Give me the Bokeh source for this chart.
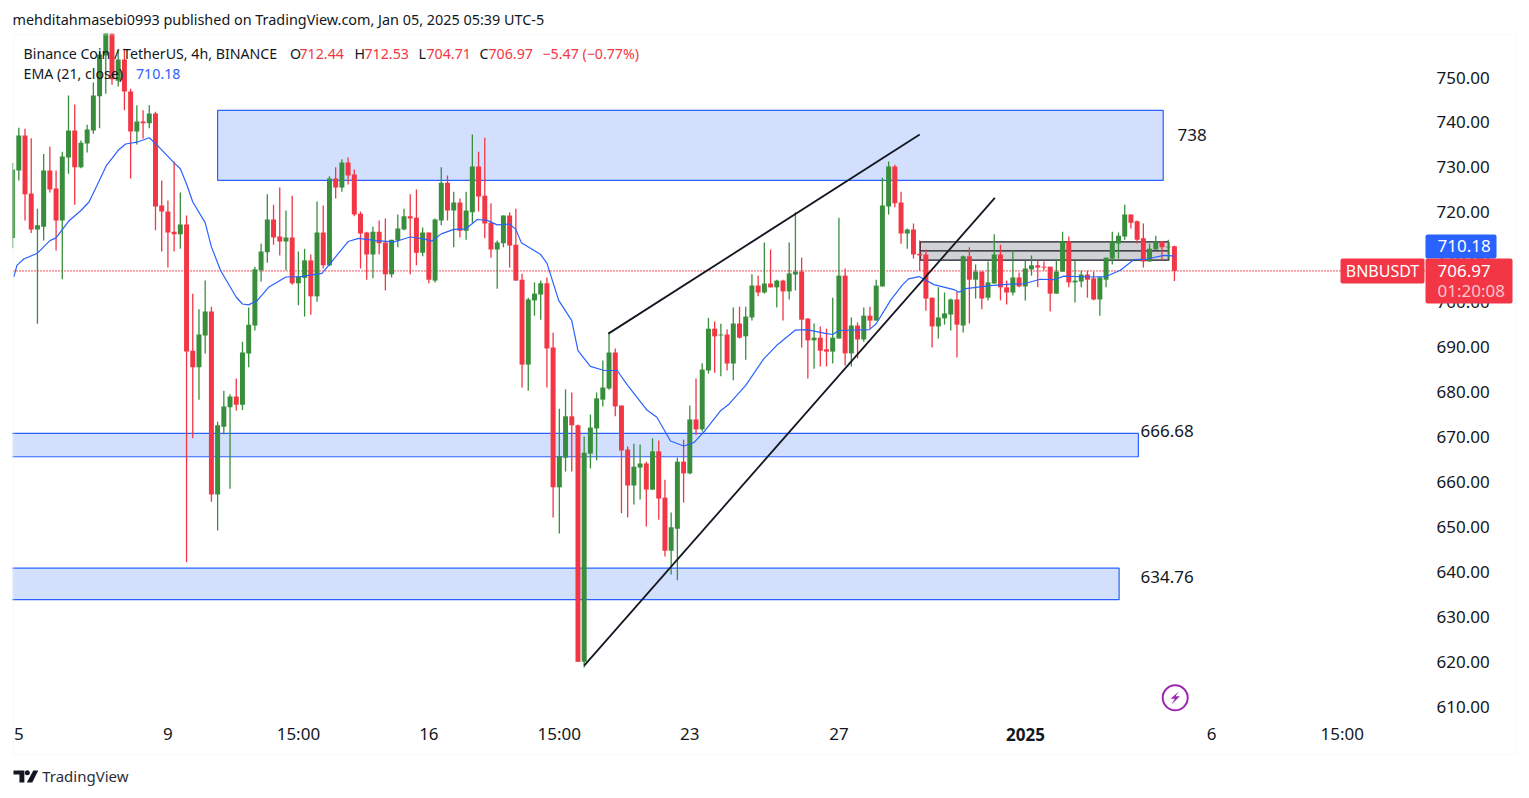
from bokeh.plotting import figure
from bokeh.models import (Range1d, LinearAxis, FixedTicker, Label, BoxAnnotation, Title,
                          NumeralTickFormatter, ColumnDataSource)
from bokeh.layouts import column
from bokeh.embed import file_html
from bokeh.resources import INLINE

OPENS = [714.3,
 729.3,737.1,724.2,716.2,716.8,729.3,725.3,718.2,732.2,738.2,
 730.0,735.3,738.2,745.8,754.9,762,749.3,754.0,746.9,738.0,
 740.2,739.8,742.0,721.5,720.2,715.7,715.1,717.3,689.2,685.5,
 692.6,697.9,657.2,672.3,676.6,679.0,677.2,688.6,694.8,707.1,
 711.1,718.4,714.6,713.5,714.4,704.2,705.4,709.3,701.3,715.5,
 708.2,727.5,725.5,731.1,728.4,719.7,715.5,710.6,715.7,713.3,
 706.2,713.7,716.2,719.1,718.8,711.0,715.5,704.8,718.2,726.6,
 720.4,722.2,715.9,720.0,730.2,723.7,717.7,711.7,713.1,719.3,
 712.8,705.0,686.1,700.4,701.7,704.2,689.9,658.8,665.4,674.6,
 672.6,620.0,666.3,671.9,678.3,680.8,688.8,677.0,667.2,659.2,
 663.2,664.1,658.3,666.8,656.5,644.7,649.6,664.5,661.9,673.9,
 671.7,684.8,694.1,692.6,692.8,686.35,695.25,692.4,696.6,703.7,
 702.15,704.15,703.3,704.8,702.4,706.15,706.8,696.35,691.5,692.1,
 689.5,689.0,691.9,705.9,688.6,694.8,691.7,697.0,695.9,703.5,
 721.3,730.2,722.2,715.3,716.2,710.8,710.6,701.0,694.6,696.4,
 697.25,700.6,694.8,710.2,705.0,706.8,701.0,704.15,710.6,703.3,
 702.15,705.5,703.5,707.3,708.2,707.9,707.9,701.9,706.8,713.5,
 704.4,704.6,706.15,705.3,700.6,705.0,709.7,713.05,714.6,719.5,
 718.0,714.2,709.05,711.7,713.5,712.2,712.44]
HIGHS = [731,
 738.8,738.6,736.5,720.8,733.0,734.6,729.3,733.5,746.0,744.0,
 736,739.5,748.9,756.0,766,766,756.2,756.4,747.5,743.8,
 742.7,743.8,742.4,727.1,722.6,731.3,724.4,719.3,701.9,698.4,
 704.8,699.0,673.4,680.3,679.5,683.0,691.2,698.8,707.9,713,
 724.0,721.7,725.5,720.4,723.7,711.3,711.9,710.6,722.4,721.5,
 728.0,730.0,731.8,732.2,729.5,720.2,715.7,716.8,718.2,718.6,
 713.9,719.5,720.8,724.0,725.1,716.6,715.5,718.6,730.0,728.2,
 724.6,723.1,724.6,737.3,733.5,736.6,722.0,713.7,719.3,720.0,
 720.8,706.3,701.0,704.4,704.8,705.5,693.2,676.3,680.6,679.9,
 672.8,670.1,675.0,679.9,687.0,693.3,689.7,677.0,667.9,668.5,
 668.3,664.5,669.7,669.2,660.5,653.2,665.4,669.4,677.0,683.0,
 686.4,696.5,695.7,695.2,693.9,698.8,699.0,699.0,706.2,705.9,
 713.3,711.7,705.0,705.0,713.3,720.0,709.9,696.4,695.25,694.6,
 694.1,701.0,718.8,707.5,696.6,695.5,698.8,699.0,705.0,727.7,
 731.3,730.6,724.6,716.4,717.5,713.7,711.7,701.0,703.3,702.15,
 700.8,702.4,710.4,712.2,708.4,706.8,709.05,715.1,712.8,704.8,
 711.5,706.6,709.3,710.4,709.3,709.05,707.9,709.5,715.7,714.6,
 709.5,707.05,707.05,706.8,705.7,709.9,715.7,715.5,721.7,719.5,
 718.2,717.5,713.05,714.8,713.5,713.9,712.53]
LOWS = [712,
 727.1,718.2,715.4,695.2,713.7,724.4,711.5,705.1,728.6,721.7,
 729.8,733.3,737.5,738.7,746.4,748.4,748.0,742.7,727.5,735.1,
 736.4,738.7,716.0,711.3,707.7,711.3,711.9,642.1,669.7,678.3,
 688.6,655.6,649.2,670.6,658.5,675.9,676.0,685.5,693.7,704.6,
 708.8,712.8,710.4,707.1,703.9,699.3,696.8,697.2,700.1,707.5,
 708.0,723.1,724.6,726.2,719.1,707.5,705.0,705.3,710.6,702.6,
 705.5,712.2,716.0,706.2,708.2,710.2,704.2,704.4,717.1,718.2,
 712.2,714.4,713.9,717.7,720.2,714.2,709.9,703.0,712.2,707.7,
 704.8,681.0,680.3,697.0,696.1,681.0,652.1,648.5,662.3,662.3,
 620.0,618.7,663.0,664.8,676.8,680.5,674.6,653.0,652.1,655.0,
 656.1,650.1,658.2,651.6,643.4,639.4,638.1,655.4,661.7,670.5,
 671.2,684.1,684.3,683.5,684.8,682.6,691.9,687.2,695.9,701.3,
 701.9,703.3,698.8,695.9,700.6,702.6,689.9,683.0,685.2,685.7,
 685.7,686.35,691.9,685.9,685.7,687.5,691.2,694.1,695.9,703.5,
 719.5,721.1,713.0,711.9,709.7,707.0,698.1,689.9,691.9,695.0,
 693.7,687.7,693.25,695.25,700.8,698.4,700.4,704.15,700.4,699.5,
 701.5,703.3,700.4,705.9,703.3,707.05,697.9,701.9,706.8,703.3,
 699.9,703.3,701.0,700.4,697.0,703.3,708.4,709.7,713.9,716.4,
 713.05,707.7,709.05,711.7,709.3,709.5,704.71]
CLOSES = [729.5,
 737.1,724.0,716.2,717.1,729.3,725.1,718.2,732.4,738.2,730.0,
 735.5,738.4,746.0,755.1,762,749.6,754.0,746.9,738.0,740.2,
 739.8,742.0,721.3,720.2,715.5,715.1,717.3,689.0,685.5,692.8,
 697.9,657.2,672.6,676.8,679.0,677.2,688.8,695.0,707.3,711.3,
 718.4,714.4,713.5,714.4,704.2,705.7,709.3,701.3,715.5,708.2,
 727.5,725.5,731.1,728.2,719.5,715.3,710.6,715.7,713.1,706.2,
 713.9,716.4,719.1,718.6,711.0,715.5,705.0,718.4,726.6,720.4,
 722.2,715.9,720.4,730.2,723.5,717.5,711.7,713.3,719.3,712.6,
 704.8,686.1,700.6,701.9,704.2,689.7,658.8,665.7,674.6,672.6,
 620.0,666.5,672.1,678.6,681.0,688.8,676.8,667.0,659.2,663.4,
 664.1,658.3,666.8,656.3,644.7,649.9,664.5,661.9,673.9,671.7,
 685.0,694.1,692.4,692.8,686.35,695.25,692.1,696.8,703.7,702.15,
 704.15,703.3,704.8,702.4,706.4,706.8,696.1,691.5,692.1,689.2,
 689.0,692.1,705.9,688.6,694.8,691.7,697.0,695.9,703.7,721.5,
 730.2,722.0,715.3,716.2,710.6,710.4,700.8,694.6,696.6,697.5,
 700.6,695.0,710.2,705.0,706.8,700.8,704.4,710.6,703.3,702.15,
 705.5,703.5,707.5,708.2,707.7,707.7,701.9,706.8,713.5,704.4,
 704.8,706.15,705.0,700.6,705.5,709.9,713.5,714.8,719.5,717.7,
 713.9,709.05,711.9,713.5,712.2,712.4,706.97]

EMA_BAR = [-0.8,-0.3,0.8,3,5,6,8,10,11.3,12.6,14.1,16,17.2,19,21,22.3,25,26,27,28,30,31,32.5,35,36,37,38.4,40.2,43,45.3,
 48.8,50.7,53,54.7,57.4,60.4,63,65.2,66.5,68,70,71.9,73.8,75.4,77,79,80,80.9,84,85,86.9,89,90,92,94.2,96.3,98,101.1,102.7,104.9,
 107,108.7,110.5,113,114.3,117,119.9,122,125,126.8,129.6,131,132,136.9,138,140.3,142.2,143.2,144.9,147.3,150.5,151.3,152.4,156.4,
 159.6,161.8,164.4,166.6,168.2,172.5,175,177.3,179.5,181.6,184.3,185.6,186]
EMA_VAL = [705.6,708.2,709.6,710.9,713.7,714.3,718.0,720.4,722.3,726.0,730.4,733.8,735.2,735.6,736.6,734.9,731.0,729.7,726.3,722.3,717.7,712.3,707.0,701.1,699.6,699.4,700.4,703.3,705.6,705.7,
 706.4,709.6,713.5,714.2,713.7,713.4,714.5,714.1,713.6,715.2,716.2,716.3,718.4,718.2,717.2,717.4,716.2,713.2,710.6,708.7,700.4,695.9,689.2,685.7,684.8,684.8,681.5,676.0,674.4,669.1,
 668.0,668.8,671.5,675.9,677.3,681.5,687.4,690.4,693.8,693.9,693.1,692.8,693.7,693.9,695.2,700.4,703.8,705.2,705.7,703.9,702.8,702.2,703.0,703.7,
 704.0,704.1,705.1,705.0,705.8,705.6,705.7,707.1,709.5,709.6,710.4,710.3,710.18]

LAST_PRICE = 706.97
EMA_LAST = 710.18
PRICE_TICKS = [610,620,630,640,650,660,670,680,690,700,710,720,730,740,750]
TIME_TICKS = {0:"5",24:"9",45:"15:00",66:"16",87:"15:00",108:"23",132:"27",192:"6",213:"15:00"}
YEAR_TICK_LABEL = "2025"

# zones: bar start, bar end, price top, price bottom
ZONE_L = [32,-10,-10]
ZONE_R = [184.2,180.2,177.1]
ZONE_T = [742.7,670.8,640.8]
ZONE_B = [727.1,665.6,633.8]
GRAY_L, GRAY_R, GRAY_T, GRAY_M, GRAY_B = 145.1,185.1,713.4,711.4,709.35
TREND_A = ([94.9,145.0],[693.0,737.3])
TREND_B = ([91.0,157.1],[619.1,723.2])

RED="#f23645"; GREEN="#388e3c"; BLUE="#2962ff"; INK="#131722"; ZONEFILL="#d2dffd"
FONT="Noto Sans"

BAR_PX=6.213; PRICE_PX=4.4935
def dx(px): return (px-18.3)/BAR_PX
def dy(py): return 750-(py-77)/PRICE_PX

# the plot frame fills the whole bordered pane; both axes print inside it
p = figure(width=1521,height=756,output_backend="svg",toolbar_location=None,
           x_range=Range1d(dx(12),dx(1517)),y_range=Range1d(dy(755),dy(33)),
           min_border_left=12,min_border_right=4,min_border_top=33,min_border_bottom=1,
           x_axis_location=None,y_axis_location=None,background_fill_color="white",border_fill_color="white")
p.grid.visible=False
p.outline_line_color=None

ax=LinearAxis(ticker=FixedTicker(ticks=PRICE_TICKS),formatter=NumeralTickFormatter(format="0.00"))
ax.axis_line_color=None; ax.major_tick_line_color=None; ax.minor_tick_line_color=None
ax.major_tick_in=0; ax.major_tick_out=0; ax.minor_tick_in=0; ax.minor_tick_out=0
ax.major_label_text_font=FONT; ax.major_label_text_font_size="17px"; ax.major_label_text_color=INK
ax.major_label_standoff=-81
p.add_layout(ax,"right")
bx=LinearAxis(ticker=FixedTicker(ticks=list(TIME_TICKS)),major_label_overrides=TIME_TICKS)
bx.axis_line_color=None; bx.major_tick_line_color=None; bx.minor_tick_line_color=None
bx.major_tick_in=0; bx.major_tick_out=0; bx.minor_tick_in=0; bx.minor_tick_out=0
bx.major_label_text_font=FONT; bx.major_label_text_font_size="17px"; bx.major_label_text_color=INK
bx.major_label_standoff=-34
p.add_layout(bx,"below")

ttl=Title(text="mehditahmasebi0993 published on TradingView.com, Jan 05, 2025 05:39 UTC-5",
          text_font=FONT,text_font_size="14.4px",text_font_style="normal",text_color=INK,
          align="left",offset=0,standoff=10)
p.add_layout(ttl,"above")

# zones
p.quad(left=ZONE_L,right=ZONE_R,top=ZONE_T,bottom=ZONE_B,fill_color=ZONEFILL,line_color=BLUE,line_width=1.2)
# current-price dotted line
p.line([dx(13),dx(1425)],[LAST_PRICE,LAST_PRICE],line_color=RED,line_width=1.6,line_dash="1 2")
# grey box
p.quad(left=[GRAY_L],right=[GRAY_R],top=[GRAY_T],bottom=[GRAY_B],fill_color="#d1d2d6",line_color=INK,line_width=1.2)
p.line([GRAY_L,GRAY_R],[GRAY_M,GRAY_M],line_color=INK,line_width=1.2)

# candles
bars=list(range(-1,len(OPENS)-1))
cols=[GREEN if c>=o else RED for o,c in zip(OPENS,CLOSES)]
src=ColumnDataSource(dict(x=bars,o=OPENS,h=HIGHS,l=LOWS,c=CLOSES,col=cols))
p.segment(x0="x",x1="x",y0="l",y1="h",line_color="col",line_width=1.3,source=src)
p.vbar(x="x",width=0.8,top="o",bottom="c",fill_color="col",line_color=None,source=src)

# EMA
p.line(EMA_BAR,EMA_VAL,line_color=BLUE,line_width=1.2)
# trend lines
p.line(*TREND_A,line_color=INK,line_width=1.8)
p.line(*TREND_B,line_color=INK,line_width=1.8)

# lightning icon
cx,cy=1174.7,697.3
p.scatter([dx(cx)],[dy(cy)],size=25,marker="circle",fill_color="white",line_color="#9c27b0",line_width=2)
bolt=[(115,33),(90,55),(103,55),(92,73),(118,47),(105,47)]
p.patch([dx(cx+(a-104)/3) for a,b in bolt],[dy(cy+(b-52)/3) for a,b in bolt],fill_color="#9c27b0",line_color=None)

def label(text,px,py,size=14.2,color=INK,align="left",weight="normal"):
    p.add_layout(Label(x=px,y=py-1,x_units="canvas",y_units="canvas",text=text,text_font=FONT,text_font_size=f"{size}px",text_color=color,
                       text_align=align,text_baseline="middle",text_font_style=weight))
def box(l,r,t,b,fill=None,line=None,lw=1,rad=0):
    p.add_layout(BoxAnnotation(left=l,right=r,top=t,bottom=b,left_units="canvas",right_units="canvas",top_units="canvas",bottom_units="canvas",
                               fill_color=fill,fill_alpha=1 if fill else 0,line_color=line,line_width=lw,border_radius=rad))

# frame
box(13,1516,34,754,None,"#f0f3fa",2)
# badges
box(1425,1496,234,258,BLUE,None,1,2)
box(1425,1512,258,303,RED,None,1,2)
box(1340,1424,258,283,RED,None,1,2)
label("710.18",1437,246,17,"white")
label("706.97",1437,271,17,"white")
label("01:20:08",1437,291,17,"#fbc4c9")
label("BNBUSDT",1382,271,16,"white","center")

label("Binance Coin / TetherUS, 4h, BINANCE",23,54)
label("O",289.5,54); label("712.44",299,54,color=RED)
label("H",354,54);   label("712.53",364,54,color=RED)
label("L",418,54);   label("704.71",426,54,color=RED)
label("C",479,54);   label("706.97",488,54,color=RED)
label("\u22125.47 (\u22120.77%)",542,54,color=RED)
label("EMA (21, close)",23,74)
label("710.18",135.5,74,color=BLUE)

label("738",1177,135,17)
label("666.68",1140,431,17)
label("634.76",1140,577,17)
label(YEAR_TICK_LABEL,1025,735,17,INK,"center","bold")

# footer strip with the TradingView logo, in page pixels
f = figure(width=1521,height=34,output_backend="svg",toolbar_location=None,
           x_range=Range1d(12,1533),y_range=Range1d(790,756),
           min_border=0,x_axis_location=None,y_axis_location=None)
f.grid.visible=False
f.outline_line_color=None
f.patch([13,24,24,19,19,13],[770,770,782,782,774,774],fill_color=INK,line_color=None)
f.patch([33,38,32,26.5],[770,770,782,782],fill_color=INK,line_color=None)
f.scatter([27],[772.3],size=5,marker="circle",fill_color=INK,line_color=None)
f.text([42],[775],text=["TradingView"],text_font={"value":FONT},text_font_size="15px",text_color="#2a2e39",text_baseline="middle")

open("out.html","w").write(file_html(column(p,f,spacing=0),INLINE))
